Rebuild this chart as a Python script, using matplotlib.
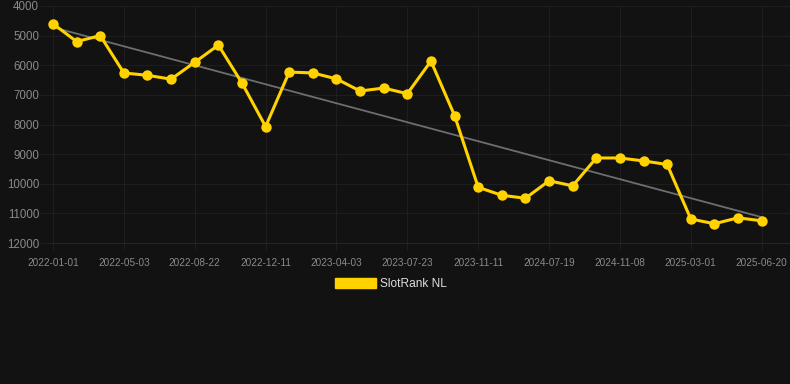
import numpy as np
import matplotlib
matplotlib.use("Agg")
import matplotlib.pyplot as plt
from matplotlib.patches import Patch

plt.rcParams['font.family'] = ['Liberation Sans', 'DejaVu Sans']

# tick labels, one every 3 points
tick_labels = ['2022-01-01', '2022-05-03', '2022-08-22', '2022-12-11', '2023-04-03',
               '2023-07-23', '2023-11-11', '2024-07-19', '2024-11-08', '2025-03-01',
               '2025-06-20']

# rank values (lower is better, axis inverted)
ranks = [4600, 5200, 5000, 6260, 6340, 6470, 5900, 5320, 6600, 8070,
         6230, 6260, 6460, 6870, 6770, 6960, 5860, 7700, 10120, 10390,
         10490, 9900, 10070, 9130, 9130, 9230, 9350, 11190, 11350, 11150,
         11250]

bg = '#121212'
gold = '#FFD200'

x = np.arange(len(ranks))
slope, icpt = np.polyfit(x, ranks, 1)

fig = plt.figure(figsize=(7.9, 3.84), dpi=100, facecolor=bg)
ax = fig.add_axes([53 / 790, 141 / 384, 737 / 790, 237 / 384], facecolor=bg)

# trend line
ax.plot(x, icpt + slope * x, color='#6e6e6e', lw=1.3, zorder=2)
# main series
ax.plot(x, ranks, color=gold, lw=2.2, marker='o', markersize=7.5,
        markeredgewidth=0, zorder=3, clip_on=False)

ax.set_ylim(12000, 4000)
ax.set_yticks(range(4000, 12001, 1000))
ax.set_xlim(0, 31.2)
ax.set_xticks(x[::3])
ax.set_xticklabels(tick_labels)

grid_c = '#1e1e1e'
ax.grid(True, color=grid_c, lw=0.75)
ax.set_axisbelow(True)
for s in ax.spines.values():
    s.set_visible(False)
ax.spines['bottom'].set_visible(True)
ax.spines['bottom'].set_color('#262626')
ax.spines['bottom'].set_linewidth(0.75)
ax.tick_params(axis='y', colors=grid_c, length=10, width=0.75, pad=0,
               labelcolor='#8a8a8a', labelsize=8.3)
ax.tick_params(axis='x', colors=grid_c, length=5, width=0.75, pad=6,
               labelcolor='#8a8a8a', labelsize=7.2)

fig.legend(handles=[Patch(facecolor=gold, edgecolor=gold)], labels=['SlotRank NL'],
           loc='center', bbox_to_anchor=(0.495, 1 - 284 / 384), frameon=False,
           fontsize=8.6, labelcolor='#dddddd', handlelength=3.4, handleheight=1.0,
           handletextpad=0.4)

fig.savefig('out.png', dpi=100, facecolor=bg)
